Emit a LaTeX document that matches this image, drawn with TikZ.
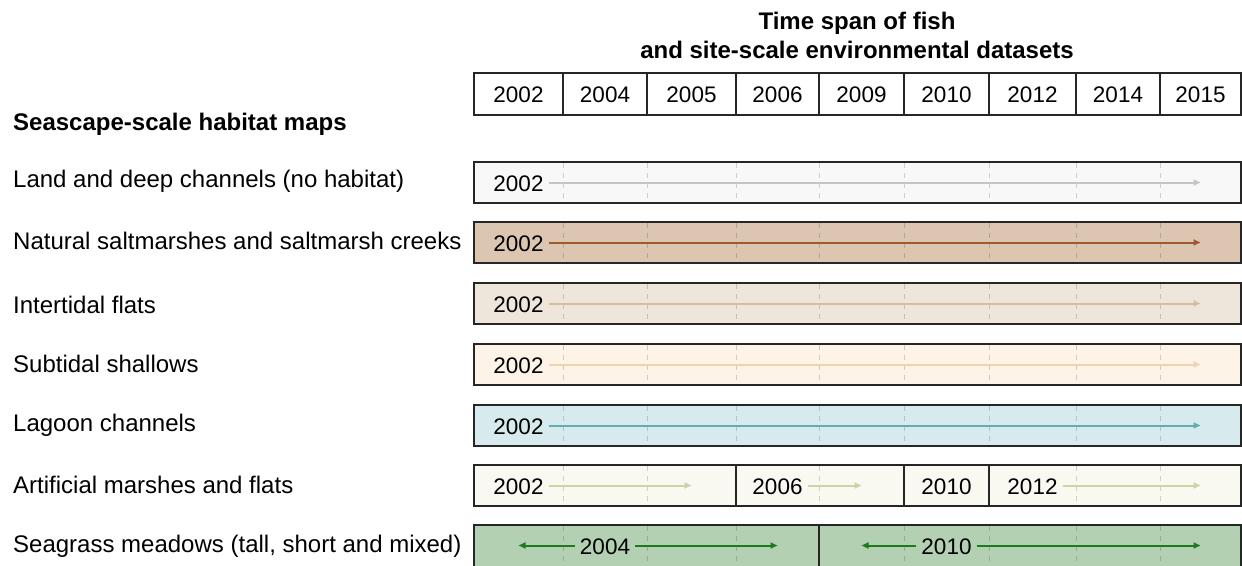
\documentclass[tikz,border=0pt]{standalone}
\usepackage{fontspec}
\setmainfont{Liberation Sans}
\usetikzlibrary{arrows.meta,fit}

\definecolor{frame}{HTML}{262626}
\definecolor{landF}{HTML}{F8F8F8}   \definecolor{landA}{HTML}{C4C4C4}
\definecolor{marshF}{HTML}{DCC6B1}  \definecolor{marshA}{HTML}{A0592E}
\definecolor{flatF}{HTML}{EEE6DA}   \definecolor{flatA}{HTML}{D9BC9C}
\definecolor{shallF}{HTML}{FDF4E7}  \definecolor{shallA}{HTML}{EFD3AE}
\definecolor{lagF}{HTML}{D7EBEF}    \definecolor{lagA}{HTML}{62AEB3}
\definecolor{artF}{HTML}{F9F8F1}    \definecolor{artA}{HTML}{D4D0A6}
\definecolor{grassF}{HTML}{B3D1B2}  \definecolor{grassA}{HTML}{1F7A1F}

\tikzset{
  yrfont/.style={font=\fontsize{22.5}{27}\selectfont},
  lblfont/.style={font=\fontsize{24}{28.3}\selectfont},
  hcell/.style={draw=frame, line width=1.4pt, inner sep=0pt},
  band/.style={draw=frame, line width=1.7pt, inner sep=0pt},
  yr/.style={yrfont, inner xsep=5pt, inner ysep=3pt},
  rowlabel/.style={lblfont, anchor=base west, inner sep=0pt},
  gridline/.style={dash pattern=on 5pt off 5pt, line width=1pt, black, opacity=0.17},
  span/.style={-{Triangle[length=7pt,width=6pt]}, line width=2pt}
}

\begin{document}
\begin{tikzpicture}[x=1pt,y=-1pt]
\useasboundingbox (0,0) rectangle (1242,565);

% title and year header
\node[font=\bfseries\fontsize{24}{28.3}\selectfont, align=center, inner sep=0pt] (title) at (857,35.4)
  {Time span of fish\\and site-scale environmental datasets};
\foreach \a/\b/\y in {474/563/2002,563/647/2004,647/736/2005,736/819/2006,819/904/2009,
                      904/989/2010,989/1076/2012,1076/1160/2014,1160/1241/2015}{
  \node[hcell, fit={(\a,73) (\b,115)}] (h\y) {};
  \node[yr] (t\y) at ([yshift=-0.8pt]h\y.center) {\y};
}

\node[rowlabel, font=\bfseries\fontsize{24}{28.3}\selectfont] (head) at (13,130) {Seascape-scale habitat maps};

% row labels
\node[rowlabel] (l1) at (13,187) {Land and deep channels (no habitat)};
\node[rowlabel] (l2) at (13,249) {Natural saltmarshes and saltmarsh creeks};
\node[rowlabel] (l3) at (13,313) {Intertidal flats};
\node[rowlabel] (l4) at (13,372) {Subtidal shallows};
\node[rowlabel] (l5) at (13,431) {Lagoon channels};
\node[rowlabel] (l6) at (13,493) {Artificial marshes and flats};
\node[rowlabel] (l7) at (13,552) {Seagrass meadows (tall, short and mixed)};

% bands
\node[band, fill=landF,  fit={(474,162) (1241,203)}] (b1) {};
\node[band, fill=marshF, fit={(474,222) (1241,263)}] (b2) {};
\node[band, fill=flatF,  fit={(474,283) (1241,324)}] (b3) {};
\node[band, fill=shallF, fit={(474,344) (1241,385)}] (b4) {};
\node[band, fill=lagF,   fit={(474,405) (1241,446)}] (b5) {};
\node[band, fill=artF,   fit={(474,465) (736,506)}] (b6a) {};
\node[band, fill=artF,   fit={(736,465) (904,506)}] (b6b) {};
\node[band, fill=artF,   fit={(904,465) (989,506)}] (b6c) {};
\node[band, fill=artF,   fit={(989,465) (1241,506)}] (b6d) {};
\node[band, fill=grassF, fit={(474,525) (819,568)}] (b7a) {};
\node[band, fill=grassF, fit={(819,525) (1241,568)}] (b7b) {};

% year grid inside the bands
\foreach \t in {162,222,283,344,405}
  \foreach \x in {563,647,736,819,904,989,1076,1160}
    \draw[gridline] (\x,\t+1) -- (\x,\t+40);
\foreach \x in {563,647,819,1076,1160}
  \draw[gridline] (\x,466) -- (\x,505);
\foreach \x in {563,647,736,904,989,1076,1160}
  \draw[gridline] (\x,526) -- (\x,566);

% coverage arrows
\coordinate (e1) at (1200.5,182.5);
\coordinate (e2) at (1200.5,242.5);
\coordinate (e3) at (1200.5,303.5);
\coordinate (e4) at (1200.5,364.5);
\coordinate (e5) at (1200.5,425.5);
\coordinate (e6a) at (691.5,485.5);
\coordinate (e6b) at (861.5,485.5);
\coordinate (e6d) at (1200.5,485.5);
\coordinate (s7a) at (518.5,545.5);
\coordinate (e7a) at (777.5,545.5);
\coordinate (s7b) at (861.5,545.5);
\coordinate (e7b) at (1200.5,545.5);

\node[yr] (y1) at (518.5,183.3) {2002};
\node[yr] (y2) at (518.5,243.3) {2002};
\node[yr] (y3) at (518.5,304.3) {2002};
\node[yr] (y4) at (518.5,365.3) {2002};
\node[yr] (y5) at (518.5,426.3) {2002};
\node[yr] (y6a) at (518.5,486.3) {2002};
\node[yr] (y6b) at (777.5,486.3) {2006};
\node[yr] (y6c) at (946.5,486.3) {2010};
\node[yr] (y6d) at (1032.5,486.3) {2012};
\node[yr] (y7a) at (605,546.3) {2004};
\node[yr] (y7b) at (946.5,546.3) {2010};

\draw[span, landA]  (y1.east |- e1) -- (e1);
\draw[span, marshA] (y2.east |- e2) -- (e2);
\draw[span, flatA]  (y3.east |- e3) -- (e3);
\draw[span, shallA] (y4.east |- e4) -- (e4);
\draw[span, lagA]   (y5.east |- e5) -- (e5);
\draw[span, artA]   (y6a.east |- e6a) -- (e6a);
\draw[span, artA]   (y6b.east |- e6b) -- (e6b);
\draw[span, artA]   (y6d.east |- e6d) -- (e6d);
\draw[span, grassA] (y7a.west |- s7a) -- (s7a);
\draw[span, grassA] (y7a.east |- e7a) -- (e7a);
\draw[span, grassA] (y7b.west |- s7b) -- (s7b);
\draw[span, grassA] (y7b.east |- e7b) -- (e7b);
\end{tikzpicture}
\end{document}
